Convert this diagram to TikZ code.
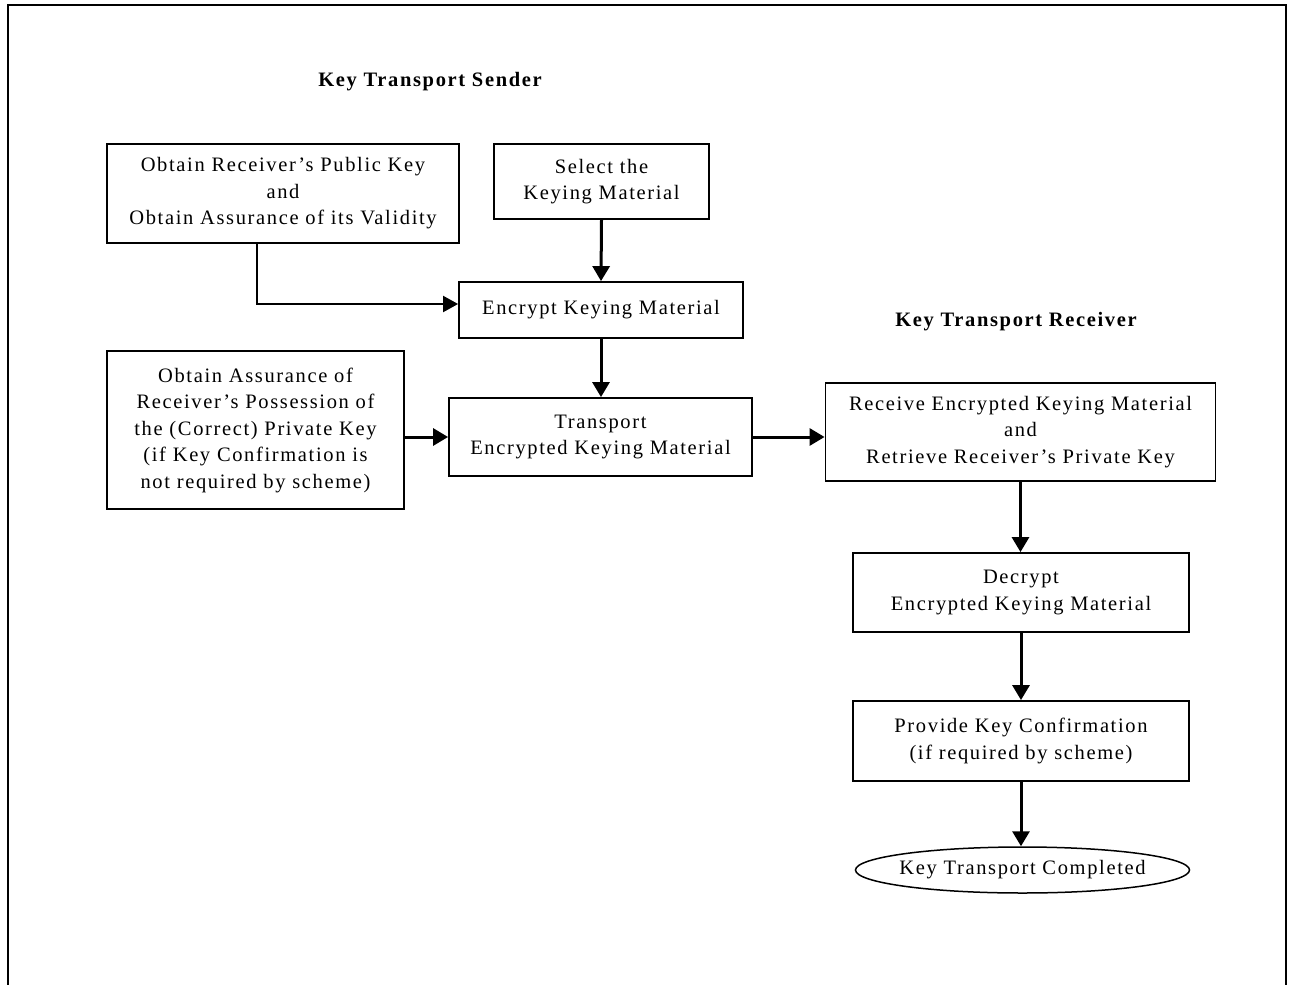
\documentclass[tikz,border=0pt]{standalone}
\usepackage{fontspec}
\setmainfont{Liberation Serif}[LetterSpace=8]
\usetikzlibrary{arrows.meta,shapes.geometric}
\begin{document}
\begin{tikzpicture}[x=1pt,y=-1pt,
  box/.style={draw,line width=1.8pt,inner sep=0pt,align=center,font=\fontsize{20.5}{26.5}\selectfont},
  title/.style={font=\fontsize{20.5}{26}\selectfont\bfseries,inner sep=0pt},
  arr/.style={line width=3pt,-{Triangle[length=15pt,width=17pt]}},
  thinarr/.style={line width=2pt,-{Triangle[length=15pt,width=16pt]}}]
\useasboundingbox (0,0) rectangle (1291,985);
\draw[line width=2.2pt] (8,990) -- (8,5) -- (1286,5) -- (1286,990);
\node[title] (ts) at (430,82) {Key Transport Sender};
\node[title] (tr) at (1016,322) {Key Transport Receiver};
\node[box,minimum width=352pt,minimum height=99pt] (A) at (283,193.5)
  {Obtain Receiver’s Public Key\\and\\Obtain Assurance of its Validity};
\node[box,minimum width=215pt,minimum height=75pt] (B) at (601.5,181.5)
  {Select the\\Keying Material};
\node[box,minimum width=284pt,minimum height=56pt] (C) at (601,310)
  {Encrypt Keying Material};
\node[box,minimum width=297pt,minimum height=158pt] (D) at (255.5,430)
  {Obtain Assurance of\\Receiver’s Possession of\\the (Correct) Private Key\\(if Key Confirmation is\\not required by scheme)};
\node[box,minimum width=303pt,minimum height=78pt] (E) at (600.5,437)
  {Transport\\Encrypted Keying Material};
\node[box,minimum width=390pt,minimum height=98pt] (F) at (1020.5,432)
  {Receive Encrypted Keying Material\\and\\Retrieve Receiver’s Private Key};
\node[box,minimum width=336pt,minimum height=79pt] (G) at (1021,592.5)
  {Decrypt\\Encrypted Keying Material};
\node[box,minimum width=336pt,minimum height=80pt] (H) at (1021,741)
  {Provide Key Confirmation\\(if required by scheme)};
\node[draw,line width=1.5pt,ellipse,inner sep=0pt,minimum width=334pt,minimum height=46pt] (K) at (1022.5,870) {};
\node[font=\fontsize{20.5}{26}\selectfont,inner sep=0pt] (Kt) at (K.center) {Key Transport Completed};
\draw[thinarr] ([xshift=-26pt]A.south) |- ([yshift=6pt]C.west);
\draw[arr] (B.south) -- (C.north);
\draw[arr] (C.south) -- (C.south |- E.north);
\draw[arr] (D.east |- E.west) -- (E.west);
\draw[arr] (E.east) -- (F.west |- E.east);
\draw[arr] (F.south) -- (F.south |- G.north);
\draw[arr] (G.south) -- (H.north);
\draw[arr] (H.south) -- (H.south |- K.north);
\end{tikzpicture}
\end{document}
